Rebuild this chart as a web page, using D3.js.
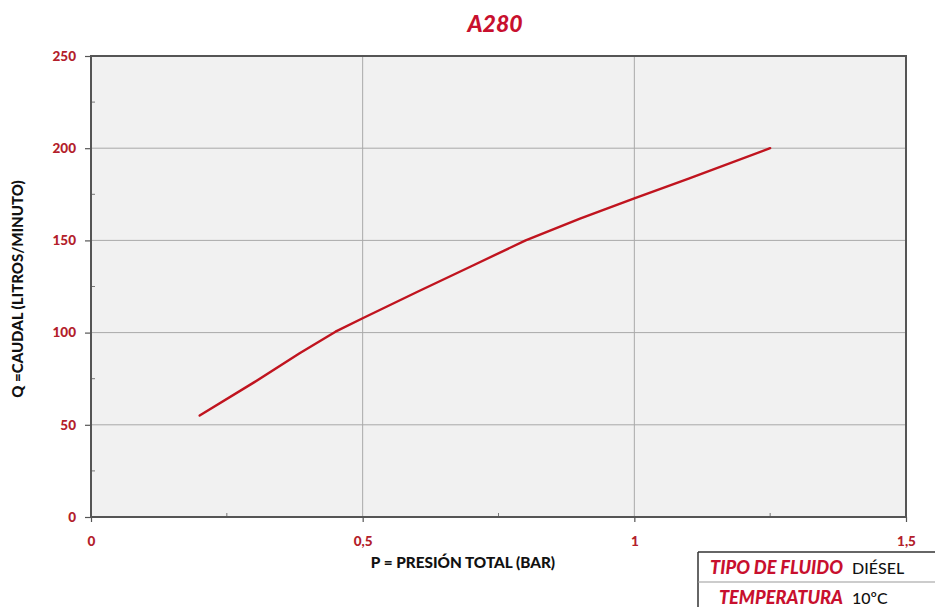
<!DOCTYPE html>
<html><head><meta charset="utf-8">
<script src="https://cdn.jsdelivr.net/npm/d3@7"></script>
<style>
html,body{margin:0;padding:0;background:#fff;}
svg{display:block;}
</style></head>
<body>
<svg id="c" width="935" height="607"></svg>
<script>
// Data
const title = "A280";
const pressure = [0.2, 0.3, 0.384, 0.45, 0.5, 0.6, 0.7, 0.8, 0.9, 1.0, 1.1, 1.25];
const flow = [55, 73, 88.8, 100.5, 107.8, 122, 136, 150, 161.8, 172.8, 183.5, 200];
const xTicks = [0, 0.5, 1, 1.5];
const xTickLabels = ["0", "0,5", "1", "1,5"];
const xMinor = [0.25, 0.75, 1.25];
const yTicks = [0, 50, 100, 150, 200, 250];
const yMinor = [25, 75, 125, 175, 225];
const xTitle = "P = PRESIÓN TOTAL (BAR)";
const yTitle = "Q =CAUDAL (LITROS/MINUTO)";
const infoLabels = ["TIPO DE FLUIDO", "TEMPERATURA"];
const infoValues = ["DIÉSEL", "10ºC"];

const red = "#c8102e";
const labRed = "#b3202a";
const svg = d3.select("#c");
const m = {l: 91, r: 906, t: 56, b: 517};
const x = d3.scaleLinear().domain([0, 1.5]).range([m.l, m.r]);
const y = d3.scaleLinear().domain([0, 250]).range([m.b, m.t]);

// plot background
svg.append("rect").attr("x", m.l).attr("y", m.t).attr("width", m.r - m.l).attr("height", m.b - m.t)
  .attr("fill", "#f1f1f1");

// grid
svg.append("g").selectAll("line").data(xTicks.slice(1, -1)).join("line")
  .attr("x1", d => x(d)).attr("x2", d => x(d)).attr("y1", m.t).attr("y2", m.b)
  .attr("stroke", "#a9a9a9").attr("stroke-width", 1);
svg.append("g").selectAll("line").data(yTicks.slice(1, -1)).join("line")
  .attr("y1", d => y(d)).attr("y2", d => y(d)).attr("x1", m.l).attr("x2", m.r)
  .attr("stroke", "#a9a9a9").attr("stroke-width", 1);

// minor ticks
svg.append("g").selectAll("line").data(xMinor).join("line")
  .attr("x1", d => x(d)).attr("x2", d => x(d)).attr("y1", m.b - 4).attr("y2", m.b)
  .attr("stroke", "#777").attr("stroke-width", 1);
svg.append("g").selectAll("line").data(yMinor).join("line")
  .attr("y1", d => y(d)).attr("y2", d => y(d)).attr("x1", m.l).attr("x2", m.l + 4)
  .attr("stroke", "#777").attr("stroke-width", 1);

// frame
svg.append("rect").attr("x", m.l).attr("y", m.t).attr("width", m.r - m.l).attr("height", m.b - m.t)
  .attr("fill", "none").attr("stroke", "#555").attr("stroke-width", 2);

// axes
const xAxis = d3.axisBottom(x).tickValues(xTicks).tickFormat((d, i) => xTickLabels[i]).tickSize(5).tickPadding(14);
const gx = svg.append("g").attr("transform", `translate(0,${m.b})`).call(xAxis);
gx.select(".domain").remove();
gx.selectAll(".tick line").attr("stroke", "#555").attr("stroke-width", 1.2);
gx.selectAll("text").attr("fill", labRed).attr("font-family", "Lato").attr("font-weight", 900).attr("font-size", 13.5);

const yAxis = d3.axisLeft(y).tickValues(yTicks).tickFormat(d3.format("d")).tickSize(6).tickPadding(9);
const gy = svg.append("g").attr("transform", `translate(${m.l},0)`).call(yAxis);
gy.select(".domain").remove();
gy.selectAll(".tick line").attr("stroke", "#555").attr("stroke-width", 1.2);
gy.selectAll("text").attr("fill", labRed).attr("font-family", "Lato").attr("font-weight", 900).attr("font-size", 13.5);

// curve
const line = d3.line().x((d, i) => x(pressure[i])).y(d => y(d));
svg.append("path").datum(flow).attr("d", line)
  .attr("fill", "none").attr("stroke", "#c0141f").attr("stroke-width", 2.4)
  .attr("stroke-linecap", "round").attr("stroke-linejoin", "round");

// title
svg.append("text").attr("x", 495).attr("y", 32).attr("text-anchor", "middle")
  .attr("fill", red).attr("font-family", "Lato").attr("font-weight", 900)
  .attr("font-style", "italic").attr("font-size", 23).text(title);

// axis titles
svg.append("text").attr("x", 463).attr("y", 568).attr("text-anchor", "middle")
  .attr("fill", "#111").attr("font-family", "Lato").attr("font-weight", 900)
  .attr("font-size", 15.3).text(xTitle);
svg.append("text").attr("transform", "translate(23,289) rotate(-90)").attr("text-anchor", "middle")
  .attr("fill", "#111").attr("font-family", "Lato").attr("font-weight", 900)
  .attr("font-size", 15).text(yTitle);

// info table
const tb = svg.append("g");
tb.append("line").attr("x1", 698).attr("x2", 935).attr("y1", 552).attr("y2", 552).attr("stroke", "#333").attr("stroke-width", 1.5);
tb.append("line").attr("x1", 698).attr("x2", 698).attr("y1", 552).attr("y2", 607).attr("stroke", "#333").attr("stroke-width", 1.5);
tb.append("line").attr("x1", 698).attr("x2", 935).attr("y1", 582).attr("y2", 582).attr("stroke", "#999").attr("stroke-width", 1);
const rowsY = [574, 604];
infoLabels.forEach((t, i) => {
  tb.append("text").attr("x", 843).attr("y", rowsY[i]).attr("text-anchor", "end")
    .attr("fill", red).attr("font-family", "Lato").attr("font-weight", 900)
    .attr("font-style", "italic").attr("font-size", 18.2).text(t);
  tb.append("text").attr("x", 852).attr("y", rowsY[i]).attr("text-anchor", "start")
    .attr("fill", "#111").attr("font-family", "Lato").attr("font-weight", 500)
    .attr("font-size", 16).text(infoValues[i]);
});
</script>
</body></html>
